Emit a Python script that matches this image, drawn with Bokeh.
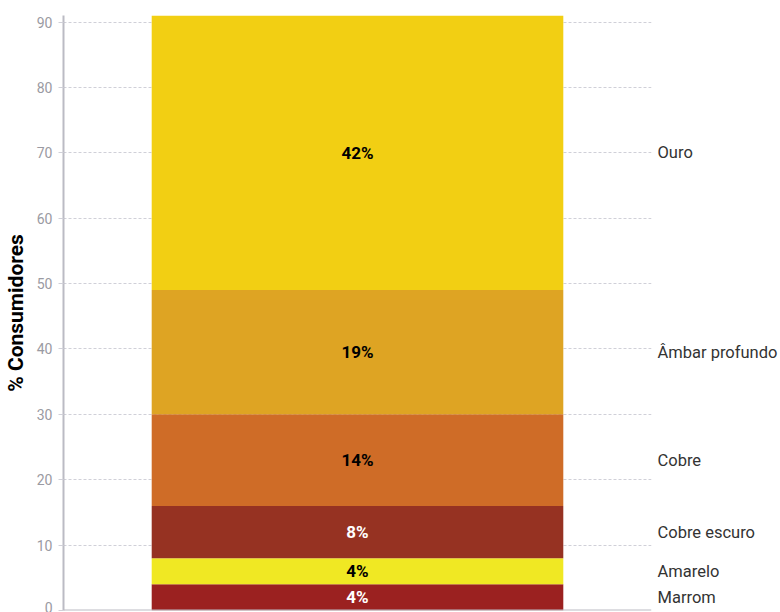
import numpy as np
from bokeh.plotting import figure
from bokeh.models import Range1d, LinearAxis, FixedTicker, ColumnDataSource, Span
from bokeh.core.properties import value
from bokeh.embed import file_html
from bokeh.resources import INLINE

categories = ["Marrom", "Amarelo", "Cobre escuro", "Cobre", "Âmbar profundo", "Ouro"]
values = [4, 4, 8, 14, 19, 42]
colors = ["#9b2120", "#f0e823", "#963222", "#cf6c27", "#dea423", "#f2cf13"]
text_colors = ["white", "black", "white", "black", "black", "black"]
y_ticks = [0, 10, 20, 30, 40, 50, 60, 70, 80, 90]

tops = list(np.cumsum(values))
bottoms = [t - v for t, v in zip(tops, values)]
mids = [(t + b) / 2 for t, b in zip(tops, bottoms)]

src = ColumnDataSource(dict(
    x=[0.5] * len(values), top=tops, bottom=bottoms, color=colors,
    mid=mids, label=[f"{v}%" for v in values], tcolor=text_colors,
))

p = figure(width=780, height=612, output_backend="svg", toolbar_location=None,
           x_range=Range1d(0, 1), y_range=Range1d(0, 91),
           min_border_left=0, min_border_right=0, min_border_top=15, min_border_bottom=2)
p.outline_line_color = None
p.background_fill_color = "white"
p.border_fill_color = "white"

p.vbar(x="x", width=0.7, top="top", bottom="bottom", fill_color="color",
       line_color=None, source=src)
p.text(x="x", y="mid", text="label", text_color="tcolor", source=src,
       text_align="center", text_baseline="middle",
       text_font=value("Roboto"), text_font_style="bold", text_font_size="17px")

# grid
p.xgrid.visible = False
p.ygrid.ticker = FixedTicker(ticks=y_ticks)
p.ygrid.grid_line_color = "#d0d0d8"
p.ygrid.grid_line_dash = "3 2"
p.ygrid.grid_line_width = 1

# x axis hidden, baseline
p.xaxis.visible = False
p.add_layout(Span(location=0, dimension="width", line_color="#bbbbc4", line_width=2))

# left axis
ax = p.yaxis[0]
ax.ticker = FixedTicker(ticks=y_ticks)
ax.axis_line_color = "#bbbbc4"
ax.axis_line_width = 2
ax.major_tick_line_color = "#d0d0d8"
ax.major_tick_out = 5
ax.major_tick_in = 0
ax.minor_tick_line_color = None
ax.major_label_text_color = "#9a9aa2"
ax.major_label_text_font = "Roboto"
ax.major_label_text_font_size = "14px"
ax.major_label_standoff = 6
ax.axis_label = "% Consumidores"
ax.axis_label_text_font = "Roboto"
ax.axis_label_text_font_style = "bold"
ax.axis_label_text_font_size = "21px"
ax.axis_label_text_color = "black"
ax.axis_label_standoff = 6

# right labels axis
rax = LinearAxis(ticker=FixedTicker(ticks=mids),
                 major_label_overrides={m: c for m, c in zip(mids, categories)})
rax.axis_line_color = None
rax.major_tick_line_color = None
rax.minor_tick_line_color = None
rax.major_label_standoff = 0
rax.major_label_text_font = "Roboto"
rax.major_label_text_font_size = "16.5px"
rax.major_label_text_color = "#333333"
p.add_layout(rax, "right")

open("out.html", "w").write(file_html(p, INLINE))
